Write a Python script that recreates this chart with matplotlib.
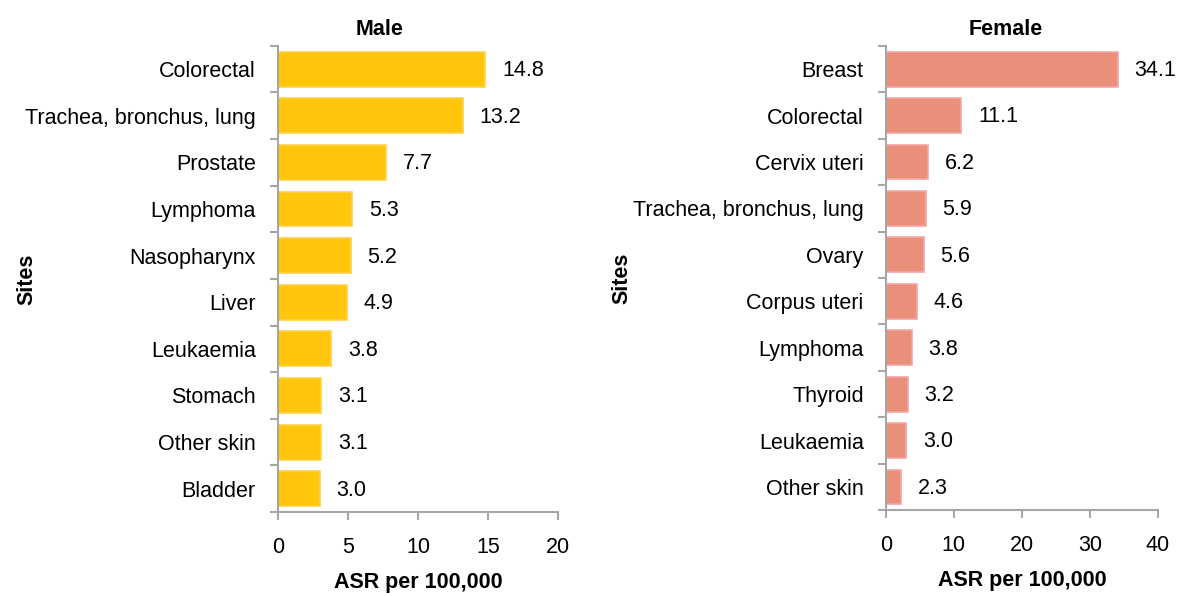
import matplotlib.pyplot as plt

plt.rcParams['font.family'] = ['Liberation Sans', 'DejaVu Sans']

# data
male_sites = ["Colorectal", "Trachea, bronchus, lung", "Prostate", "Lymphoma", "Nasopharynx",
              "Liver", "Leukaemia", "Stomach", "Other skin", "Bladder"]
male_asr = [14.8, 13.2, 7.7, 5.3, 5.2, 4.9, 3.8, 3.1, 3.1, 3.0]

female_sites = ["Breast", "Colorectal", "Cervix uteri", "Trachea, bronchus, lung", "Ovary",
                "Corpus uteri", "Lymphoma", "Thyroid", "Leukaemia", "Other skin"]
female_asr = [34.1, 11.1, 6.2, 5.9, 5.6, 4.6, 3.8, 3.2, 3.0, 2.3]

male_ticks = [0, 5, 10, 15, 20]
female_ticks = [0, 10, 20, 30, 40]

fig = plt.figure(figsize=(11.78, 5.96), dpi=100)
ax_m = fig.add_axes([0.236, 0.141, 0.2377, 0.782])
ax_f = fig.add_axes([0.752, 0.144, 0.2309, 0.779])

grey = '#a6a6a6'
fs = 15.5


def draw(ax, sites, vals, ticks, color, edge, title, title_x):
    pos = range(len(sites))
    ax.barh(pos, vals, height=0.75, color=color, edgecolor=edge, linewidth=1.2)
    for p, v in zip(pos, vals):
        ax.annotate(f"{v:.1f}", (v, p), xytext=(12, -1), textcoords='offset points',
                    va='center', ha='left', fontsize=fs)
    ax.set_ylim(len(sites) - 0.5, -0.5)
    ax.set_xlim(ticks[0], ticks[-1])
    ax.set_xticks(ticks)
    # major ticks sit between categories, names go on minor ticks
    ax.set_yticks([p + 0.5 for p in range(-1, len(sites))], minor=False)
    ax.set_yticklabels([])
    ax.set_yticks(list(pos), minor=True)
    ax.set_yticklabels(sites, minor=True, fontsize=fs)
    ax.tick_params(axis='y', which='minor', length=0, pad=16)
    ax.tick_params(axis='y', which='major', length=6, color=grey, width=1.5)
    ax.tick_params(axis='x', length=6, color=grey, width=1.5, labelsize=fs, pad=12)
    for s in ['top', 'right']:
        ax.spines[s].set_visible(False)
    for s in ['left', 'bottom']:
        ax.spines[s].set_color(grey)
        ax.spines[s].set_linewidth(1.5)
    ax.set_xlabel("ASR per 100,000", fontsize=fs, fontweight='bold', labelpad=10)
    ax.set_ylabel("Sites", fontsize=fs, fontweight='bold')
    ax.text(title_x, 1.012, title, transform=ax.transAxes, ha='center', va='bottom',
            fontsize=fs, fontweight='bold')


draw(ax_m, male_sites, male_asr, male_ticks, '#ffc60b', '#ffd24a', "Male", 0.364)
draw(ax_f, female_sites, female_asr, female_ticks, '#e8907a', '#f5a5a5', "Female", 0.44)

ax_m.yaxis.set_label_coords(-0.86, 0.5)
ax_f.yaxis.set_label_coords(-0.93, 0.5)

fig.savefig("out.png", dpi=100)
